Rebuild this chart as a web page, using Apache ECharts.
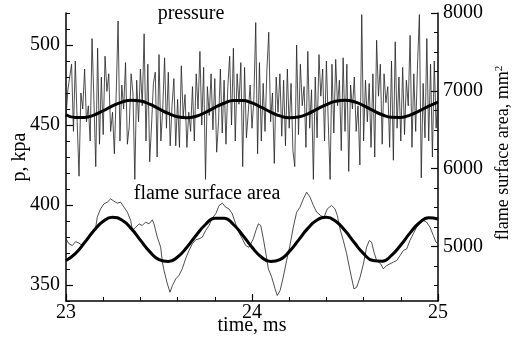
<!DOCTYPE html>
<html>
<head>
<meta charset="utf-8">
<script src="https://cdn.jsdelivr.net/npm/echarts@6/dist/echarts.min.js"></script>
<style>
  html, body { margin: 0; padding: 0; background: #fff; }
  #chart { width: 512px; height: 342px; }
</style>
</head>
<body>
<div id="chart"></div>
<script>
// Pressure trace, sampled every 0.01 ms from 23 ms (kPa)
const pressureStart = 23.0;
const pressureStep = 0.01;
const pressureValues = [
  455, 472, 480, 488, 446, 490, 452, 418, 470, 460,
  485, 452, 462, 440, 504, 466, 424, 498, 438, 480,
  444, 493, 471, 482, 446, 458, 432, 470, 515, 440,
  475, 460, 489, 438, 449, 482, 470, 416, 478, 452,
  485, 462, 507, 440, 488, 427, 450, 476, 483, 430,
  494, 440, 460, 492, 448, 483, 437, 462, 479, 437,
  466, 436, 487, 455, 469, 436, 458, 446, 474, 440,
  482, 460, 496, 450, 486, 416, 474, 456, 482, 447,
  479, 433, 452, 485, 445, 478, 438, 474, 493, 450,
  498, 440, 482, 463, 489, 424, 486, 442, 458, 475,
  448, 466, 514, 432, 489, 440, 476, 446, 484, 508,
  452, 470, 426, 480, 458, 482, 443, 478, 437, 485,
  448, 476, 434, 424, 500, 444, 488, 462, 474, 436,
  496, 448, 472, 416, 480, 442, 494, 468, 485, 440,
  490, 452, 416, 488, 445, 491, 462, 478, 434, 492,
  446, 488, 421, 475, 460, 480, 446, 462, 425, 519,
  440, 478, 452, 476, 436, 482, 430, 503, 468, 488,
  438, 482, 464, 474, 436, 490, 428, 502, 448, 480,
  440, 486, 444, 478, 462, 506, 436, 482, 446, 488,
  519, 417, 476, 442, 504, 440, 488, 430, 490, 448,
  470
];

// Flame surface area trace (mm^2)
const flameTime = [
  23.000, 23.016, 23.034, 23.052, 23.070, 23.088, 23.106, 23.124, 23.142, 23.160,
  23.168, 23.186, 23.204, 23.222, 23.240, 23.258, 23.276, 23.294, 23.312, 23.330,
  23.348, 23.357, 23.375, 23.393, 23.410, 23.428, 23.446, 23.464, 23.473, 23.491,
  23.509, 23.518, 23.527, 23.545, 23.559, 23.572, 23.590, 23.607, 23.625, 23.643,
  23.661, 23.679, 23.697, 23.715, 23.733, 23.751, 23.769, 23.787, 23.805, 23.823,
  23.841, 23.858, 23.876, 23.894, 23.912, 23.930, 23.948, 23.966, 23.984, 24.007,
  24.021, 24.034, 24.047, 24.061, 24.075, 24.088, 24.106, 24.124, 24.136, 24.151,
  24.168, 24.186, 24.204, 24.222, 24.240, 24.258, 24.276, 24.294, 24.312, 24.330,
  24.348, 24.369, 24.387, 24.405, 24.428, 24.446, 24.459, 24.473, 24.491, 24.509,
  24.527, 24.548, 24.563, 24.581, 24.599, 24.616, 24.631, 24.643, 24.656, 24.670,
  24.692, 24.706, 24.724, 24.742, 24.760, 24.778, 24.796, 24.814, 24.832, 24.849,
  24.867, 24.885, 24.903, 24.921, 24.939, 24.957, 24.975, 24.989, 25.000
];
const flameValues = [
  5098, 5034, 5013, 5064, 5043, 5013, 5056, 5111, 5163, 5248,
  5377, 5484, 5548, 5570, 5612, 5582, 5557, 5570, 5505, 5441,
  5334, 5206, 5248, 5291, 5270, 5313, 5291, 5343, 5291, 5120,
  4991, 4799, 4692, 4520, 4413, 4499, 4585, 4627, 4713, 4842,
  4949, 5034, 5086, 5098, 5120, 5206, 5270, 5368, 5420, 5527,
  5557, 5505, 5484, 5420, 5291, 5184, 5098, 5013, 4990, 5098,
  5206, 5291, 5270, 5098, 4906, 4713, 4606, 4456, 4370, 4435,
  4606, 4820, 5013, 5248, 5441, 5505, 5612, 5698, 5634, 5527,
  5441, 5398, 5377, 5484, 5527, 5484, 5398, 5227, 5077, 4906,
  4692, 4456, 4477, 4606, 4777, 4991, 5077, 5056, 4927, 4820,
  4777, 4713, 4756, 4777, 4799, 4820, 4884, 4949, 4970, 5077,
  5163, 5248, 5313, 5334, 5313, 5248, 5141, 5056, 5040
];

// Fitted harmonic curves, sampled every 0.05 ms from 23 ms
const fitStart = 23.0;
const fitStep = 0.05;
const pressureFit = [
  456.4, 454.7, 454.7, 456.2, 458.9, 461.9, 464.3, 465.5, 465.0, 463.0,
  460.1, 457.2, 455.1, 454.5, 455.5, 457.9, 460.9, 463.6, 465.3, 465.3,
  463.8, 461.1, 458.1, 455.7, 454.5, 455.0, 457.0, 459.9, 462.8, 464.9,
  465.5, 464.5, 462.1, 459.1, 456.4, 454.8, 454.7, 456.2, 458.8, 461.8,
  464.3
];
const flameFit = [
  4820, 4909, 5051, 5205, 5324, 5375, 5341, 5233, 5082, 4934,
  4832, 4807, 4865, 4990, 5145, 5283, 5364, 5364, 5283, 5145,
  4990, 4865, 4807, 4832, 4934, 5082, 5233, 5341, 5375, 5324,
  5205, 5051, 4909, 4820, 4812, 4886, 5020, 5175, 5305, 5371,
  5354
];

// Axis ticks
const timeTicks = [23, 24, 25];
const pressureTicks = [350, 400, 450, 500];
const pressureMinorTicks = [340, 360, 370, 380, 390, 410, 420, 430, 440, 460, 470, 480, 490, 510, 520];
const areaTicks = [5000, 6000, 7000, 8000];
const areaMinorTicks = [4500, 4750, 5250, 5500, 5750, 6250, 6500, 6750, 7250, 7500, 7750];

const FONT = 'Liberation Serif';

const pressureSeries = pressureValues.map((v, i) => [+(pressureStart + i * pressureStep).toFixed(3), v]);
const flameSeries = flameValues.map((v, i) => [flameTime[i], v]);
const pressureFitSeries = pressureFit.map((v, i) => [+(fitStart + i * fitStep).toFixed(3), v]);
const flameFitSeries = flameFit.map((v, i) => [+(fitStart + i * fitStep).toFixed(3), v]);

const axisLineStyle = { color: '#000', width: 1.5 };
const labelStyle = { color: '#000', fontFamily: FONT, fontSize: 20, formatter: (v) => String(v) };

const chart = echarts.init(document.getElementById('chart'), null, { renderer: 'canvas' });
chart.setOption({
  animation: false,
  backgroundColor: '#fff',
  grid: { left: 66, right: 74, top: 13, bottom: 41 },
  xAxis: {
    type: 'value',
    min: timeTicks[0],
    max: timeTicks[timeTicks.length - 1],
    interval: 1,
    axisLine: { show: true, lineStyle: axisLineStyle },
    axisTick: { show: true, inside: true, length: 7, lineStyle: { color: '#000', width: 1.2 } },
    minorTick: { show: true, splitNumber: 5, length: 4, lineStyle: { color: '#000', width: 1 } },
    axisLabel: Object.assign({}, labelStyle, { margin: 2 }),
    splitLine: { show: false },
    minorSplitLine: { show: false }
  },
  yAxis: [
    {
      type: 'value', position: 'left', min: 340, max: 520,
      axisLine: { show: true, lineStyle: axisLineStyle },
      axisTick: { show: true, inside: true, length: 7, customValues: pressureTicks, lineStyle: { color: '#000', width: 1.2 } },
      axisLabel: Object.assign({}, labelStyle, { margin: 6, customValues: pressureTicks }),
      splitLine: { show: false }
    },
    {
      type: 'value', position: 'left', min: 340, max: 520,
      axisLine: { show: false },
      axisTick: { show: true, inside: true, length: 4, customValues: pressureMinorTicks, lineStyle: { color: '#000', width: 1 } },
      axisLabel: { show: false },
      splitLine: { show: false }
    },
    {
      type: 'value', position: 'right', min: 4300, max: 8000,
      axisLine: { show: true, lineStyle: axisLineStyle },
      axisTick: { show: true, inside: true, length: 7, customValues: areaTicks, lineStyle: { color: '#000', width: 1.2 } },
      axisLabel: Object.assign({}, labelStyle, { margin: 5, customValues: areaTicks }),
      splitLine: { show: false }
    },
    {
      type: 'value', position: 'right', min: 4300, max: 8000,
      axisLine: { show: false },
      axisTick: { show: true, inside: true, length: 4, customValues: areaMinorTicks, lineStyle: { color: '#000', width: 1 } },
      axisLabel: { show: false },
      splitLine: { show: false }
    }
  ],
  series: [
    {
      name: 'pressure', type: 'line', yAxisIndex: 0, data: pressureSeries,
      showSymbol: false, lineStyle: { color: '#222', width: 0.8 }, z: 2
    },
    {
      name: 'flame surface area', type: 'line', yAxisIndex: 2, data: flameSeries,
      showSymbol: false, lineStyle: { color: '#222', width: 0.8 }, z: 2
    },
    {
      name: 'pressure fit', type: 'line', yAxisIndex: 0, data: pressureFitSeries,
      showSymbol: false, smooth: 0.5, lineStyle: { color: '#000', width: 3 }, z: 3
    },
    {
      name: 'flame surface area fit', type: 'line', yAxisIndex: 2, data: flameFitSeries,
      showSymbol: false, smooth: 0.5, lineStyle: { color: '#000', width: 3 }, z: 3
    }
  ],
  graphic: [
    {
      type: 'text', x: 191, y: 14,
      style: { text: 'pressure', font: '20px "' + FONT + '"', fill: '#000', align: 'center', verticalAlign: 'middle' }
    },
    {
      type: 'text', x: 207, y: 194,
      style: { text: 'flame surface area', font: '20px "' + FONT + '"', fill: '#000', align: 'center', verticalAlign: 'middle' }
    },
    {
      type: 'text', x: 252, y: 326,
      style: { text: 'time, ms', font: '20px "' + FONT + '"', fill: '#000', align: 'center', verticalAlign: 'middle' }
    },
    {
      type: 'text', x: 20, y: 157, rotation: Math.PI / 2,
      style: { text: 'p, kpa', font: '20px "' + FONT + '"', fill: '#000', align: 'center', verticalAlign: 'middle' }
    },
    {
      type: 'text', x: 503, y: 153, rotation: Math.PI / 2,
      style: {
        text: '{a|flame surface area, mm}{s|2}',
        fill: '#000', align: 'center', verticalAlign: 'middle',
        rich: {
          a: { fontFamily: FONT, fontSize: 18, fill: '#000' },
          s: { fontFamily: FONT, fontSize: 11, fill: '#000', verticalAlign: 'top', padding: [0, 0, 8, 0] }
        }
      }
    }
  ]
});
</script>
</body>
</html>
